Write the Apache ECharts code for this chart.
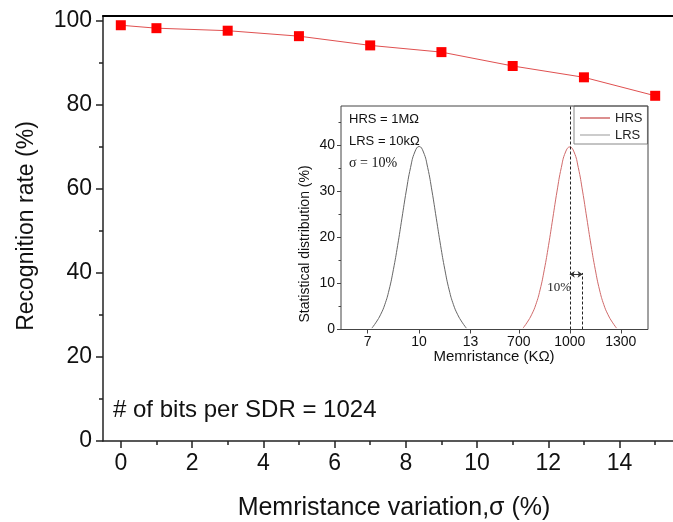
<!DOCTYPE html>
<html><head><meta charset="utf-8">
<script src="https://cdn.jsdelivr.net/npm/echarts@6/dist/echarts.min.js"></script>
<style>html,body{margin:0;padding:0;background:#fff}#c{width:673px;height:522px}</style>
</head><body><div id="c"></div>
<script>
// Main chart data
const sigmaValues = [0, 1, 3, 5, 7, 9, 11, 13, 15];
const recognitionRate = [99.0, 98.3, 97.7, 96.4, 94.2, 92.6, 89.3, 86.6, 82.2];
const mainXTicks = [0, 2, 4, 6, 8, 10, 12, 14];
const mainXMinor = [1, 3, 5, 7, 9, 11, 13, 15];
const mainYTicks = [0, 20, 40, 60, 80, 100];
const mainYMinor = [10, 30, 50, 70, 90];

// Inset data
const lrsX = [7.25, 7.5, 7.75, 8, 8.25, 8.5, 8.75, 9, 9.25, 9.5, 9.75, 10, 10.25, 10.5, 10.75, 11, 11.25, 11.5, 11.75, 12, 12.25, 12.5, 12.75];
const lrsY = [0.3, 1.6, 3.2, 5.4, 8.6, 13.0, 18.3, 24.2, 30.1, 35.2, 38.6, 39.8, 38.6, 35.2, 30.1, 24.2, 18.3, 13.0, 8.6, 5.4, 3.2, 1.6, 0.3];
const hrsX = [725, 750, 775, 800, 825, 850, 875, 900, 925, 950, 975, 1000, 1025, 1050, 1075, 1100, 1125, 1150, 1175, 1200, 1225, 1250, 1275];
const hrsY = [0.3, 1.6, 3.2, 5.4, 8.6, 13.0, 18.3, 24.2, 30.1, 35.2, 38.6, 39.7, 38.6, 35.2, 30.1, 24.2, 18.3, 13.0, 8.6, 5.4, 3.2, 1.6, 0.3];
const insetYTicks = [0, 10, 20, 30, 40];
const insetYMinor = [5, 15, 25, 35, 45];
const insetXTicksLow = [7, 10, 13];
const insetXTicksHigh = [700, 1000, 1300];
const meanHRS = 1000, sigmaMarkX = 1075, arrowY = 12, sigmaLineTop = 12.3;

const SANS = '"Liberation Sans", Arial, sans-serif';
const SERIF = '"Liberation Serif", "Times New Roman", serif';

const chart = echarts.init(document.getElementById('c'), null, {renderer: 'canvas'});
const plain = v => String(v);
const mainLabel = {fontFamily: SANS, fontSize: 23, color: '#111', margin: 11, formatter: plain};
const insetLabel = {fontFamily: SANS, fontSize: 14, color: '#111', margin: 6, formatter: plain};

chart.setOption({
  animation: false,
  backgroundColor: '#fff',
  grid: [
    {left: 103, top: 16, width: 580, height: 425},
    {left: 341, top: 106, width: 154, height: 223.5},
    {left: 495, top: 106, width: 153, height: 223.5}
  ],
  xAxis: [
    {gridIndex: 0, type: 'value', min: -0.5, max: 15.5, position: 'bottom',
     axisLine: {show: true, onZero: false, lineStyle: {color: '#222', width: 1.5}},
     axisTick: {show: true, inside: false, length: 7, customValues: mainXTicks, lineStyle: {color: '#222', width: 1.5}},
     axisLabel: Object.assign({customValues: mainXTicks}, mainLabel),
     splitLine: {show: false}},
    {gridIndex: 0, type: 'value', min: -0.5, max: 15.5, position: 'bottom',
     axisLine: {show: false, onZero: false},
     axisTick: {show: true, inside: false, length: 4, customValues: mainXMinor, lineStyle: {color: '#222', width: 1.5}},
     axisLabel: {show: false}, splitLine: {show: false}},
    {gridIndex: 0, type: 'value', min: -0.5, max: 15.5, position: 'top',
     axisLine: {show: true, onZero: false, lineStyle: {color: '#000', width: 2}},
     axisTick: {show: false}, axisLabel: {show: false}, splitLine: {show: false}},
    {gridIndex: 1, type: 'value', min: 5.45, max: 14.42, position: 'bottom',
     axisLine: {show: false, onZero: false},
     axisTick: {show: true, inside: false, length: 4, customValues: insetXTicksLow, lineStyle: {color: '#444'}},
     axisLabel: Object.assign({customValues: insetXTicksLow}, insetLabel),
     splitLine: {show: false}},
    {gridIndex: 2, type: 'value', min: 560, max: 1460, position: 'bottom',
     axisLine: {show: false, onZero: false},
     axisTick: {show: true, inside: false, length: 4, customValues: insetXTicksHigh, lineStyle: {color: '#444'}},
     axisLabel: Object.assign({customValues: insetXTicksHigh}, insetLabel),
     splitLine: {show: false}}
  ],
  yAxis: [
    {gridIndex: 0, type: 'value', min: 0, max: 101.2, position: 'left',
     axisLine: {show: true, onZero: false, lineStyle: {color: '#222', width: 1.5}},
     axisTick: {show: true, inside: false, length: 7, customValues: mainYTicks, lineStyle: {color: '#222', width: 1.5}},
     axisLabel: Object.assign({customValues: mainYTicks}, mainLabel),
     splitLine: {show: false}},
    {gridIndex: 0, type: 'value', min: 0, max: 101.2, position: 'left',
     axisLine: {show: false, onZero: false},
     axisTick: {show: true, inside: false, length: 4, customValues: mainYMinor, lineStyle: {color: '#222', width: 1.5}},
     axisLabel: {show: false}, splitLine: {show: false}},
    {gridIndex: 1, type: 'value', min: 0, max: 48.6, position: 'left',
     axisLine: {show: false, onZero: false},
     axisTick: {show: true, inside: false, length: 4, customValues: insetYTicks, lineStyle: {color: '#444'}},
     axisLabel: Object.assign({customValues: insetYTicks}, insetLabel),
     splitLine: {show: false}},
    {gridIndex: 1, type: 'value', min: 0, max: 48.6, position: 'left',
     axisLine: {show: false, onZero: false},
     axisTick: {show: true, inside: false, length: 2.5, customValues: insetYMinor, lineStyle: {color: '#444'}},
     axisLabel: {show: false}, splitLine: {show: false}},
    {gridIndex: 2, type: 'value', min: 0, max: 48.6, show: false}
  ],
  legend: {
    orient: 'vertical', left: 574, top: 106,
    icon: 'rect', itemWidth: 30, itemHeight: 1.5, itemGap: 3,
    padding: [5, 5, 2, 6],
    borderColor: '#888', borderWidth: 1, backgroundColor: '#fff',
    textStyle: {fontFamily: SANS, fontSize: 13, color: '#222', lineHeight: 14},
    data: [{name: 'HRS'}, {name: 'LRS', itemStyle: {color: '#bbb'}}]
  },
  graphic: [
    {type: 'rect', z: 50, silent: true, shape: {x: 341, y: 106, width: 307, height: 223.5},
     style: {fill: 'none', stroke: '#444', lineWidth: 1}},
    {type: 'text', x: 27, y: 226, rotation: Math.PI / 2,
     style: {text: 'Recognition rate (%)', font: '23px ' + SANS, fill: '#111', textAlign: 'center', textVerticalAlign: 'middle'}},
    {type: 'text', x: 394, y: 508,
     style: {text: 'Memristance variation,σ (%)', font: '25px ' + SANS, fill: '#111', textAlign: 'center', textVerticalAlign: 'middle'}},
    {type: 'text', x: 113, y: 410,
     style: {text: '# of bits per SDR = 1024', font: '24px ' + SANS, fill: '#111', textAlign: 'left', textVerticalAlign: 'middle'}},
    {type: 'text', x: 305, y: 244, rotation: Math.PI / 2,
     style: {text: 'Statistical distribution (%)', font: '14px ' + SANS, fill: '#111', textAlign: 'center', textVerticalAlign: 'middle'}},
    {type: 'text', x: 494, y: 357,
     style: {text: 'Memristance (KΩ)', font: '15px ' + SANS, fill: '#111', textAlign: 'center', textVerticalAlign: 'middle'}},
    {type: 'text', x: 349, y: 119,
     style: {text: 'HRS = 1MΩ', font: '13px ' + SANS, fill: '#111', textAlign: 'left', textVerticalAlign: 'middle'}},
    {type: 'text', x: 349, y: 141,
     style: {text: 'LRS = 10kΩ', font: '13px ' + SANS, fill: '#111', textAlign: 'left', textVerticalAlign: 'middle'}},
    {type: 'text', x: 349, y: 163,
     style: {text: 'σ = 10%', font: '14px ' + SERIF, fill: '#111', textAlign: 'left', textVerticalAlign: 'middle'}},
    {type: 'text', x: 571, y: 288,
     style: {text: '10%', font: '13px ' + SERIF, fill: '#222', textAlign: 'right', textVerticalAlign: 'middle'}}
  ],
  series: [
    {name: 'Recognition', type: 'line', xAxisIndex: 0, yAxisIndex: 0,
     data: sigmaValues.map((x, i) => [x, recognitionRate[i]]),
     symbol: 'rect', symbolSize: 10,
     itemStyle: {color: '#ff0000'},
     lineStyle: {color: '#e05050', width: 1}, z: 5},
    {name: 'LRS', type: 'line', xAxisIndex: 3, yAxisIndex: 2,
     data: lrsX.map((x, i) => [x, lrsY[i]]), smooth: true, symbol: 'none',
     itemStyle: {color: '#666'}, lineStyle: {color: '#666', width: 1}},
    {name: 'HRS', type: 'line', xAxisIndex: 4, yAxisIndex: 4,
     data: hrsX.map((x, i) => [x, hrsY[i]]), smooth: true, symbol: 'none',
     itemStyle: {color: '#d06a6a'}, lineStyle: {color: '#d06a6a', width: 1},
     markLine: {
       silent: true, symbol: ['none', 'none'], label: {show: false},
       lineStyle: {color: '#222', type: [3, 2], width: 1},
       emphasis: {disabled: true},
       data: [
         {xAxis: meanHRS},
         [{coord: [sigmaMarkX, 0]}, {coord: [sigmaMarkX, sigmaLineTop]}],
         [{coord: [meanHRS, arrowY], symbol: 'arrow', symbolSize: 5, lineStyle: {type: 'solid', color: '#333'}},
          {coord: [sigmaMarkX, arrowY], symbol: 'arrow', symbolSize: 5}]
       ]
     }}
  ]
});
</script></body></html>
